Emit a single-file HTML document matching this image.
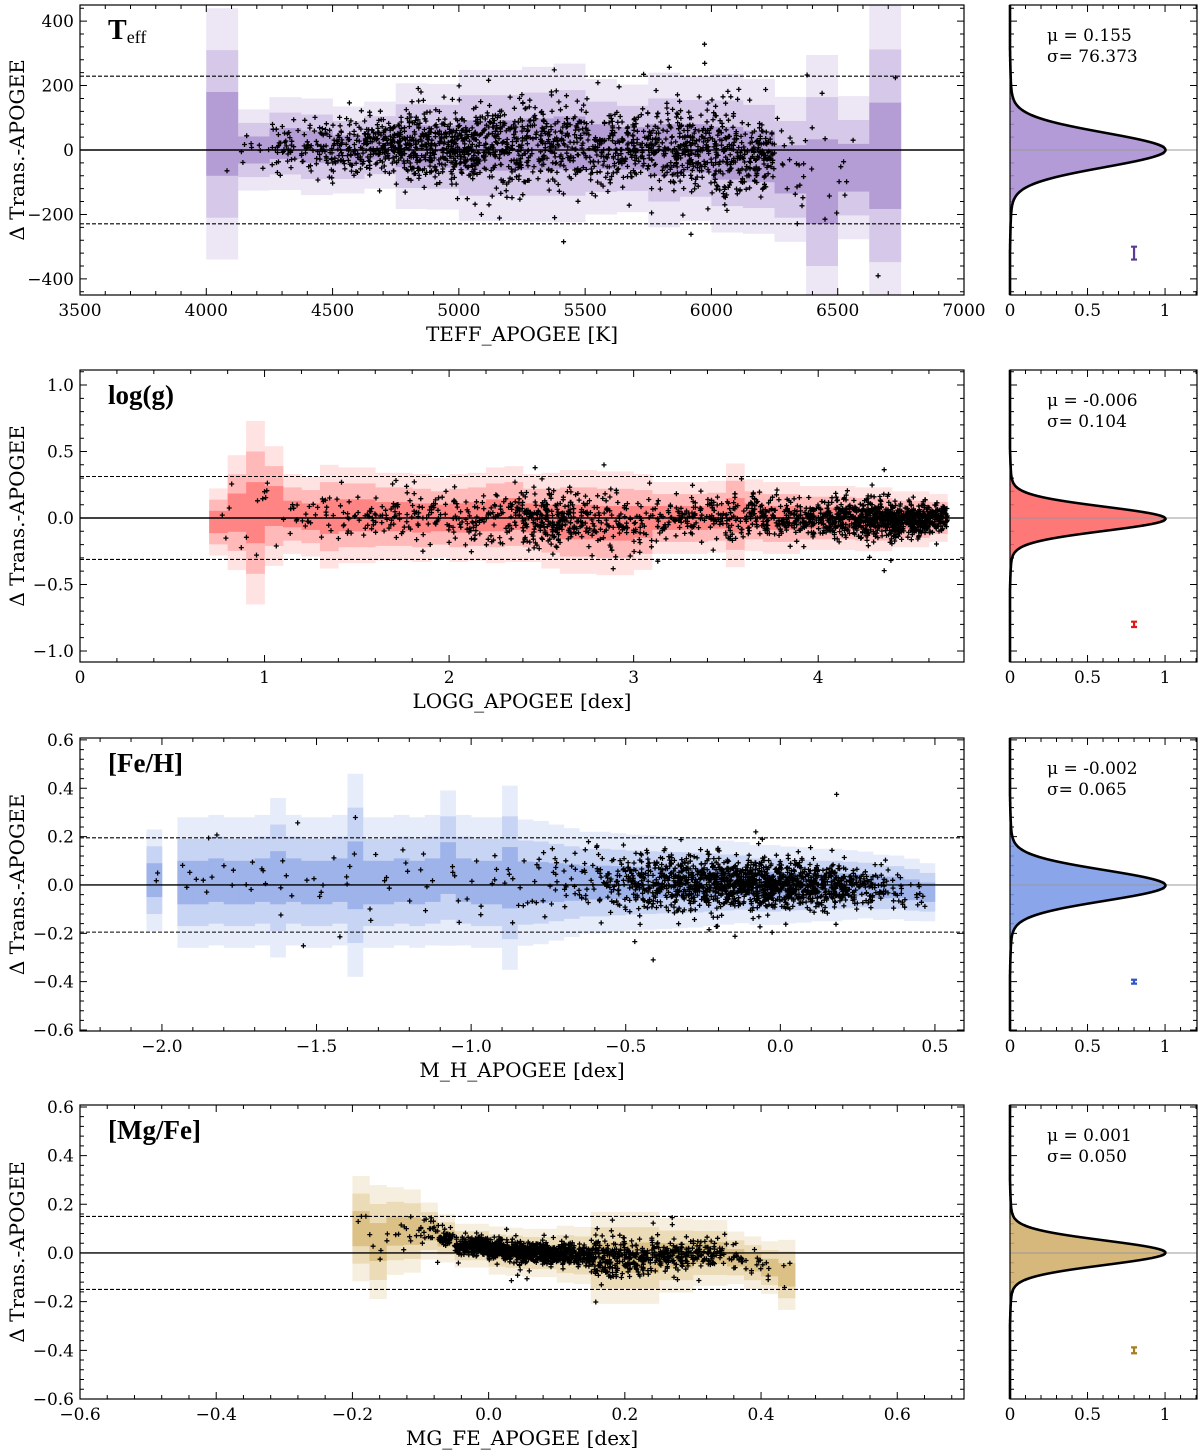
<!DOCTYPE html>
<html><head><meta charset="utf-8"><style>
html,body{margin:0;padding:0;background:#fff;}
svg{display:block;font-family:"DejaVu Serif","Liberation Serif",serif;}
</style></head><body>
<svg id="fig" width="1200" height="1452" viewBox="0 0 1200 1452" xmlns="http://www.w3.org/2000/svg"></svg>
<script>
// ---------- data ----------
const teffStart = 4000, teffWidth = 125;
const teffMedian = [50,0,20,10,0,15,12,10,14,14,18,22,10,5,0,5,-10,-20,-60,-98,-55,-18];
const teffSpread = [130,42,48,50,45,45,65,65,78,78,80,82,70,66,80,75,82,80,75,131,74,165];
const teffCount = [1,10,40,60,90,130,160,170,160,140,120,110,100,110,130,140,140,120,20,8,6,2];

const loggStart = 0.7, loggWidth = 0.1;
const loggMedian = [-0.03,0.04,0.04,0.09,0.03,0.01,0.01,0.02,0.02,0.01,0.01,0.0,0.0,0.0,0.01,0.02,0.03,0.0,-0.02,-0.03,-0.03,-0.04,-0.04,-0.03,0.0,0.0,0.0,0.01,0.02,0.02,0.0,0.0,0.0,0.0,0.0,-0.01,-0.01,-0.01,-0.01,0.0];
const loggSpread = [0.084,0.144,0.23,0.15,0.1,0.1,0.13,0.12,0.12,0.11,0.11,0.11,0.1,0.11,0.11,0.12,0.12,0.11,0.12,0.13,0.13,0.13,0.13,0.12,0.09,0.09,0.09,0.09,0.13,0.09,0.09,0.09,0.08,0.08,0.08,0.08,0.08,0.07,0.07,0.06];
const loggCount = [2,3,5,4,8,10,12,15,18,20,22,22,25,25,28,30,35,60,80,60,40,35,30,30,28,28,30,35,40,45,50,55,60,70,90,110,130,150,160,90];

const fehStart = -2.05, fehWidth = 0.05;
const fehMedian = [0.02,0,0.01,0.01,0.02,0.01,0.01,0.02,0.03,0.02,0.01,0.01,0.02,0.04,0.01,0.01,0.02,0.01,0.02,0.07,0.02,0.01,0.01,0.03,0.01,0.01,0.01,0.01,0.01,0.01,0.01,0.01,0.01,0.01,0.01,0.01,0.01,0.01,0.01,0.0,0.0,0.0,0.0,0.0,0.0,0.0,0.0,-0.01,-0.01,-0.02,-0.03];
const fehSpread = [0.07,0,0.09,0.09,0.09,0.09,0.09,0.09,0.11,0.09,0.09,0.09,0.09,0.14,0.09,0.09,0.09,0.09,0.09,0.107,0.09,0.09,0.09,0.127,0.087,0.085,0.08,0.075,0.07,0.07,0.068,0.066,0.065,0.064,0.063,0.062,0.06,0.058,0.056,0.055,0.055,0.053,0.052,0.05,0.05,0.048,0.046,0.045,0.044,0.043,0.04];
const fehCount = [2,0,3,3,3,3,3,3,3,3,3,3,4,3,3,3,3,3,3,3,3,4,4,5,6,8,10,14,18,25,35,50,60,70,80,90,100,110,120,120,120,110,100,90,80,60,40,25,15,8,4];

const mgStart = -0.2, mgWidth = 0.025;
const mgMedian = [0.1,0.045,0.09,0.09,0.09,0.06,0.03,0.03,0.01,0.005,0.0,0.0,-0.005,-0.01,-0.02,-0.02,-0.02,-0.02,-0.01,-0.01,0.0,0.0,-0.02,-0.04,-0.06,-0.09];
const mgSpread = [0.072,0.078,0.06,0.057,0.039,0.033,0.03,0.03,0.033,0.033,0.033,0.033,0.039,0.039,0.063,0.063,0.063,0.063,0.051,0.051,0.045,0.045,0.036,0.036,0.036,0.048];
const mgCount = [3,4,5,8,20,50,90,130,150,160,150,130,110,90,80,70,60,60,60,50,40,30,20,10,5,3];

const fitMu = [0.155,-0.006,-0.002,0.001];
const fitSigma = [76.373,0.104,0.065,0.050];
const fitDisplayWidth = [53,0.09,0.063,0.05];
const errBarY = [-320,-0.8,-0.4,-0.4];
const errBarHalf = [20,0.02,0.008,0.012];

// ---------- layout ----------
const NS='http://www.w3.org/2000/svg';
const svg=document.getElementById('fig');
function mk(tag,attrs,parent){const e=document.createElementNS(NS,tag);for(const k in attrs)e.setAttribute(k,attrs[k]);(parent||svg).appendChild(e);return e;}

const panels=[
 {name:'teff',T:5,B:295,xmin:3500,xmax:7000,ymin:-450,ymax:450,xMaj:500,xMin:100,yMaj:200,yMin:40,xDec:0,yDec:0,xlab:'TEFF_APOGEE [K]',sf:0.85,
  start:teffStart,w:teffWidth,med:teffMedian,spr:teffSpread,cnt:teffCount,cols:['#ece6f5','#d6c8e8','#b49dd4'],hist:'#a689d0',err:'#5b3a96'},
 {name:'logg',T:370,B:662,xmin:0,xmax:4.79,ymin:-1.083,ymax:1.113,xMaj:1,xMin:0.2,yMaj:0.5,yMin:0.1,xDec:0,yDec:1,xlab:'LOGG_APOGEE [dex]',sf:0.85,
  start:loggStart,w:loggWidth,med:loggMedian,spr:loggSpread,cnt:loggCount,cols:['#ffe2e2','#ffb9b9','#ff8585'],hist:'#ff6060',err:'#e01818'},
 {name:'feh',T:738,B:1031,xmin:-2.265,xmax:0.594,ymin:-0.604,ymax:0.608,xMaj:0.5,xMin:0.1,yMaj:0.2,yMin:0.04,xDec:1,yDec:1,xlab:'M_H_APOGEE [dex]',sf:0.9,
  start:fehStart,w:fehWidth,med:fehMedian,spr:fehSpread,cnt:fehCount,cols:['#e7ecfa','#c8d4f4','#9db3ea'],hist:'#7795e8',err:'#2f55c8'},
 {name:'mgfe',T:1105,B:1399,xmin:-0.6,xmax:0.698,ymin:-0.6,ymax:0.608,xMaj:0.2,xMin:0.04,yMaj:0.2,yMin:0.04,xDec:1,yDec:1,xlab:'MG_FE_APOGEE [dex]',sf:0.6,
  start:mgStart,w:mgWidth,med:mgMedian,spr:mgSpread,cnt:mgCount,cols:['#f6efdf','#ebdbb6','#dcc187'],hist:'#cfac66',err:'#a87d20'}
];
const titles=['T','log(g)','[Fe/H]','[Mg/Fe]'];
const L=80,R=964,RL=1010,RR=1197;

// seeded generator used only to scatter the star markers inside each bin
let seed=12345;
function rnd(){seed=(seed*1103515245+12345)%2147483648;return seed/2147483648;}
function gauss(){let u=rnd()||1e-6,v=rnd();return Math.sqrt(-2*Math.log(u))*Math.cos(2*Math.PI*v);}

function fmt(v,d){let s=v.toFixed(d);if(Math.abs(v)<1e-9)s=(0).toFixed(d);return s.replace('-','\u2212');}

panels.forEach((p,pi)=>{
  const g=mk('g',{});
  
  
  const X=v=>L+(v-p.xmin)/(p.xmax-p.xmin)*(R-L);
  const Y=v=>p.B-(v-p.ymin)/(p.ymax-p.ymin)*(p.B-p.T);
  const clip=mk('clipPath',{id:'c'+pi},g);mk('rect',{x:L,y:p.T,width:R-L,height:p.B-p.T},clip);
  const bands=mk('g',{'clip-path':'url(#c'+pi+')'},g);
  
  
  [3,2,1].forEach((k,ki)=>{
    p.med.forEach((m,i)=>{
      const s=p.spr[i]; if(!s) return;
      const x0=X(p.start+i*p.w),x1=X(p.start+(i+1)*p.w);
      const r=mk('rect',{x:x0,y:Y(m+k*s),width:x1-x0+0.3,height:Y(m-k*s)-Y(m+k*s),fill:p.cols[ki]},bands);
      
      
    });
  });
  const zl=mk('line',{x1:L,x2:R,y1:Y(0),y2:Y(0),stroke:'#000','stroke-width':1.4},g);
  
  [1,-1].forEach(sg=>{const dl=mk('line',{x1:L,x2:R,y1:Y(sg*3*fitSigma[pi]),y2:Y(sg*3*fitSigma[pi]),stroke:'#000','stroke-width':1.1,'stroke-dasharray':'4,2'},g);
    });
  let d='';
  p.cnt.forEach((n,i)=>{
    const s=p.spr[i]||p.spr[i+1]||p.spr[0];const m=p.med[i]||0;
    for(let j=0;j<n;j++){
      const xv=p.start+(i+rnd())*p.w; let k=gauss()*s*p.sf; if(rnd()<0.04) k*=2.2;
      const px=X(xv),py=Y(m+k); if(py<p.T+2||py>p.B-2) continue;
      d+='M'+(px-2.5).toFixed(1)+' '+py.toFixed(1)+'h5M'+px.toFixed(1)+' '+(py-2.5).toFixed(1)+'v5';
    }
  });
  const sc=mk('path',{d:d,stroke:'#000','stroke-width':1.3,fill:'none'},g);
  
  const fr=mk('rect',{x:L,y:p.T,width:R-L,height:p.B-p.T,fill:'none',stroke:'#000','stroke-width':1.2},g);
  
  let td='';
  const eps=1e-9;
  for(let v=Math.ceil(p.xmin/p.xMin-eps)*p.xMin;v<=p.xmax+eps;v+=p.xMin){
    const maj=Math.abs(v/p.xMaj-Math.round(v/p.xMaj))<1e-6;const len=maj?7:4;const x=X(v);
    td+='M'+x+' '+p.B+'v-'+len+'M'+x+' '+p.T+'v'+len;
  }
  for(let v=Math.ceil(p.ymin/p.yMin-eps)*p.yMin;v<=p.ymax+eps;v+=p.yMin){
    const maj=Math.abs(v/p.yMaj-Math.round(v/p.yMaj))<1e-6;const len=maj?7:4;const y=Y(v);
    td+='M'+L+' '+y+'h'+len+'M'+R+' '+y+'h-'+len;
    td+='M'+RL+' '+y+'h'+len+'M'+RR+' '+y+'h-'+len;
  }
  mk('path',{d:td,stroke:'#000','stroke-width':1,fill:'none'},g);
  for(let k=Math.ceil(p.xmin/p.xMaj-eps);k*p.xMaj<=p.xmax+eps;k++){
    const v=k*p.xMaj;
    const t=mk('text',{x:X(v),y:p.B+21,'text-anchor':'middle','font-size':17},g);t.textContent=fmt(v,p.xDec);
    
  }
  for(let k=Math.ceil(p.ymin/p.yMaj-eps);k*p.yMaj<=p.ymax+eps;k++){
    const v=k*p.yMaj;
    const t=mk('text',{x:L-6,y:Y(v)+6,'text-anchor':'end','font-size':17},g);t.textContent=fmt(v,p.yDec);
    
  }
  const xl=mk('text',{x:(L+R)/2,y:p.B+46,'text-anchor':'middle','font-size':20},g);xl.textContent=p.xlab;
  
  const yc=(p.T+p.B)/2;
  const yl=mk('text',{x:24,y:yc,'text-anchor':'middle','font-size':20,transform:'rotate(-90 24 '+yc+')'},g);yl.textContent='\u0394 Trans.-APOGEE';
  
  const tt=mk('text',{x:108,y:p.T+34,'font-size':pi==0?28:27,'font-weight':'bold','font-family':'"Liberation Serif",serif'},g);
  
  if(pi==0){tt.textContent='T';const sub=mk('tspan',{'font-size':18,'font-weight':'normal',dy:4},tt);sub.textContent='eff';}
  else tt.textContent=titles[pi];

  const HX=v=>RL+v/1.206*(RR-RL);
  const hg=mk('g',{},g);
  
  const sig=fitDisplayWidth[pi];
  let pts=[],area='M'+HX(0)+' '+p.B;
  for(let yy=p.B;yy>=p.T;yy-=1){
    const v=p.ymin+(p.B-yy)/(p.B-p.T)*(p.ymax-p.ymin);
    const z=(v-fitMu[pi])/sig;
    const f=0.97*Math.exp(-0.5*z*z)+0.97*0.04/(1+z*z*0.15);
    const fv=Math.max(0,f-0.97*0.04/(1+36*0.15));
    pts.push(HX(fv).toFixed(1)+','+yy);
    area+='L'+HX(Math.min(1.0,fv*1.03)).toFixed(1)+' '+yy;
  }
  area+='L'+HX(0)+' '+p.T+'Z';
  const ha=mk('path',{d:area,fill:p.hist,opacity:0.85},hg);
  
  mk('line',{x1:RL,x2:RR,y1:Y(0),y2:Y(0),stroke:'#999','stroke-width':1},hg);
  const fc=mk('polyline',{points:pts.join(' '),fill:'none',stroke:'#000','stroke-width':2.6},hg);
  
  mk('rect',{x:RL,y:p.T,width:RR-RL,height:p.B-p.T,fill:'none',stroke:'#000','stroke-width':1.2},hg);
  let hd='';
  for(let v=0;v<=1.2+eps;v+=0.1){const maj=Math.abs(v*2-Math.round(v*2))<1e-6;hd+='M'+HX(v)+' '+p.B+'v-'+(maj?7:4)+'M'+HX(v)+' '+p.T+'v'+(maj?7:4);}
  mk('path',{d:hd,stroke:'#000','stroke-width':1},hg);
  [[0,'0'],[0.5,'0.5'],[1,'1']].forEach(([v,s])=>{const t=mk('text',{x:HX(v),y:p.B+21,'text-anchor':'middle','font-size':17},hg);t.textContent=s;
    });
  const mu=mk('text',{x:1047,y:p.T+36,'font-size':17},hg);mu.textContent='\u03bc = '+(fitMu[pi]<0?'-':' ')+Math.abs(fitMu[pi]).toFixed(3);
  
  const sgt=mk('text',{x:1047,y:p.T+57,'font-size':17},hg);sgt.textContent='\u03c3= '+fitSigma[pi].toFixed(3);
  
  const ex=HX(0.8),ey0=Y(errBarY[pi]+errBarHalf[pi]),ey1=Y(errBarY[pi]-errBarHalf[pi]);
  const eb=mk('path',{d:'M'+ex+' '+ey0+'V'+ey1+'M'+(ex-3)+' '+ey0+'h6M'+(ex-3)+' '+ey1+'h6',stroke:p.err,'stroke-width':2.2,fill:'none'},hg);
  
});
</script>
</body></html>
